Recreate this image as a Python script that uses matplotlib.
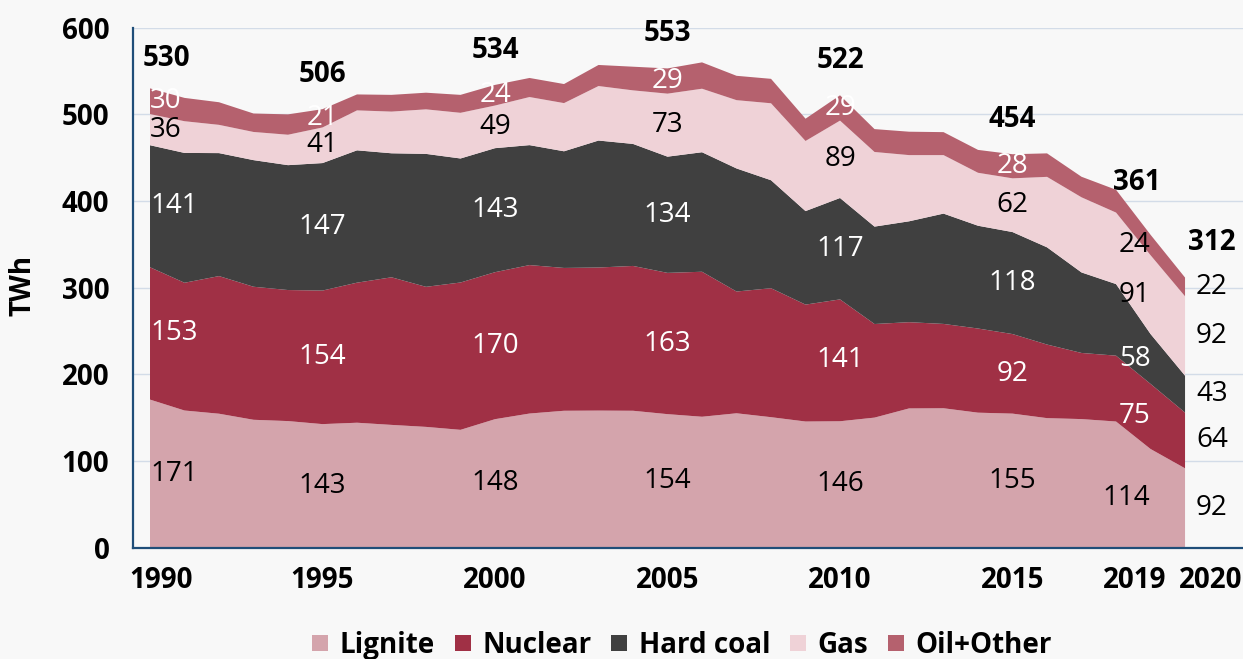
import numpy as np
import matplotlib
matplotlib.use('Agg')
import matplotlib.pyplot as plt
from matplotlib.lines import Line2D
from matplotlib.transforms import ScaledTranslation

plt.rcParams['font.family'] = ['Open Sans', 'DejaVu Sans']

# German conventional power generation, TWh
years = np.arange(1990, 2021)
lignite = [170.9, 158.3, 154.6, 147.6, 146.1, 142.6, 144.2, 141.7, 139.4, 136.0,
           148.3, 154.8, 158.0, 158.2, 158.0, 154.1, 151.1, 155.1, 150.6, 145.6,
           145.9, 150.1, 160.7, 160.9, 155.8, 154.7, 149.5, 148.4, 145.6, 113.9, 91.6]
nuclear = [152.7, 147.4, 158.8, 153.5, 151.2, 154.1, 161.6, 170.3, 161.6, 170.0,
           169.6, 171.3, 164.8, 165.1, 167.1, 163.0, 167.3, 140.5, 148.8, 134.9,
           140.6, 108.0, 99.5, 97.3, 97.1, 91.8, 84.9, 76.3, 76.0, 75.1, 64.3]
hard_coal = [140.8, 149.8, 141.9, 146.1, 144.1, 147.1, 152.7, 143.1, 153.4, 143.1,
             143.1, 138.4, 134.6, 146.5, 140.8, 134.1, 137.9, 142.0, 124.6, 107.9,
             117.0, 112.4, 116.4, 127.3, 118.6, 117.7, 112.2, 92.9, 82.6, 57.6, 42.6]
gas = [35.9, 36.6, 32.6, 32.5, 35.1, 41.1, 46.1, 48.1, 51.4, 52.7,
       49.2, 55.5, 55.6, 62.9, 61.8, 72.7, 73.3, 78.8, 88.8, 80.9,
       89.3, 86.1, 76.4, 67.5, 61.1, 62.0, 81.3, 86.7, 82.5, 90.9, 91.6]
oil_other = [29.7, 26.9, 26.1, 21.3, 23.5, 21.1, 18.4, 19.3, 19.2, 20.7,
             23.8, 22.0, 22.0, 24.3, 27.3, 29.1, 30.4, 28.1, 28.2, 25.7,
             29.2, 26.4, 27.0, 26.5, 26.4, 27.8, 27.1, 23.7, 26.3, 23.6, 21.6]

names = ['Lignite', 'Nuclear', 'Hard coal', 'Gas', 'Oil+Other']
colors = ['#d4a4ac', '#a03045', '#404040', '#efd2d7', '#b5616e']
text_colors = ['black', 'white', 'white', 'black', 'white']
label_years = [1990, 1995, 2000, 2005, 2010, 2015, 2019, 2020]
tick_years = [1990, 1995, 2000, 2005, 2010, 2015, 2019, 2020]

series = np.array([lignite, nuclear, hard_coal, gas, oil_other])
totals = series.sum(axis=0)
bottoms = np.vstack([np.zeros(len(years)), np.cumsum(series, axis=0)[:-1]])

fs = 20
bg = '#f8f8f8'
fig = plt.figure(figsize=(12.43, 6.59), dpi=100, facecolor=bg)
ax = fig.add_axes([133 / 1243, 1 - 547.7 / 659, 1 - 133 / 1243, 520 / 659])
ax.set_facecolor(bg)

ax.stackplot(years, series, colors=colors, linewidth=0, zorder=2)

ax.set_xlim(1989.507, 2021.68)
ax.set_ylim(0, 600)
ax.set_yticks(range(0, 601, 100))
ax.grid(axis='y', color='#d3dce8', linewidth=1, zorder=0)
ax.set_axisbelow(True)

for s in ['top', 'right']:
    ax.spines[s].set_visible(False)
for s in ['left', 'bottom']:
    ax.spines[s].set_color('#1f4e79')
    ax.spines[s].set_linewidth(1.6)
    ax.spines[s].set_zorder(3)

ax.tick_params(axis='both', length=0, labelsize=fs)
ax.tick_params(axis='y', pad=17)
ax.tick_params(axis='x', pad=13)
ax.set_xticks(tick_years)
ax.set_xticklabels([str(y) for y in tick_years])
for lab in ax.get_xticklabels() + ax.get_yticklabels():
    lab.set_fontweight('bold')

# small horizontal nudges of the year labels, in pixels
nudge = {1990: 11, 2019: -16, 2020: 26}
for lab, y in zip(ax.get_xticklabels(), tick_years):
    if y in nudge:
        lab.set_transform(lab.get_transform() +
                          ScaledTranslation(nudge[y] / 100, 0, fig.dpi_scale_trans))

ax.set_ylabel('TWh', fontsize=fs, fontweight='bold')
ax.yaxis.set_label_coords((38 - 133) / 1110, 0.505)

# value labels
for yr in label_years:
    i = yr - years[0]
    if yr == 1990:
        x, ha, tx = yr, 'left', yr + 0.47
    elif yr == 2019:
        x, ha, tx = yr, 'right', yr - 0.4
    elif yr == 2020:
        x, ha, tx = yr + 0.78, 'center', yr + 0.78
    else:
        x, ha, tx = yr, 'center', yr
    for k in range(len(names)):
        mid = bottoms[k, i] + series[k, i] / 2
        c = text_colors[k]
        if yr == 2020 or (yr == 2019 and k == 4):
            c = 'black'
        ax.text(x, mid, f'{round(series[k, i]):d}', ha=ha, va='center',
                fontsize=fs, color=c, zorder=4)
    ty = np.interp(tx, years, totals) + 40
    ax.text(tx, ty, f'{round(totals[i]):d}', ha='center', va='center',
            fontsize=fs, fontweight='bold', color='black', zorder=4)

handles = [Line2D([], [], marker='s', linestyle='', markersize=11,
                  markerfacecolor=c, markeredgewidth=0) for c in colors]
fig.legend(handles, names, loc='center', bbox_to_anchor=(0.549, 0.021), ncol=5,
           frameon=False, handlelength=0.5, handletextpad=0.45, columnspacing=0.75,
           prop={'size': fs, 'weight': 'bold'})

fig.savefig('out.png', dpi=100, facecolor=bg)
